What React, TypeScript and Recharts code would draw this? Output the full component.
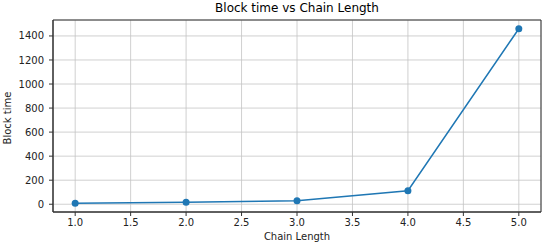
import { LineChart, Line, XAxis, YAxis, CartesianGrid, ReferenceArea } from 'recharts'

const chainLength = [1, 2, 3, 4, 5]
const blockTime = [8, 17, 30, 112, 1460]
const xTicks = [1.0, 1.5, 2.0, 2.5, 3.0, 3.5, 4.0, 4.5, 5.0]
const yTicks = [0, 200, 400, 600, 800, 1000, 1200, 1400]

const data = chainLength.map((x, i) => ({ x, y: blockTime[i] }))

const FONT = '"DejaVu Sans", sans-serif'
const BLUE = '#1f77b4'

// matplotlib style 5% margins around the data
const padDomain = ([min, max]: [number, number]): [number, number] => {
  const pad = (max - min) * 0.05
  return [min - pad, max + pad]
}

export default function App() {
  const yDom = padDomain([Math.min(...blockTime), Math.max(...blockTime)])
  return (
    <div style={{ position: 'absolute', left: 0, top: 0, width: 550, height: 248, background: '#fff', fontFamily: FONT }}>
      <div style={{ position: 'absolute', left: 53, width: 488, top: 1, textAlign: 'center', fontSize: 12, color: '#000' }}>
        Block time vs Chain Length
      </div>
      <div style={{ position: 'absolute', left: 53, width: 488, top: 231, textAlign: 'center', fontSize: 10, color: '#222' }}>
        Chain Length
      </div>
      <div
        style={{
          position: 'absolute',
          left: 7,
          top: 118,
          fontSize: 10,
          color: '#222',
          whiteSpace: 'nowrap',
          transform: 'translate(-50%, -50%) rotate(-90deg)',
        }}
      >
        Block time
      </div>
      <LineChart width={550} height={248} data={data} margin={{ top: 20, right: 9, bottom: 0, left: 0 }}>
        <CartesianGrid stroke="#c4c4c4" strokeWidth={0.8} />
        <XAxis
          dataKey="x"
          type="number"
          domain={[0.8, 5.2]}
          ticks={xTicks}
          tickFormatter={(v: number) => v.toFixed(1)}
          height={36}
          tickSize={4}
          tickMargin={3}
          axisLine={{ stroke: '#333' }}
          tickLine={{ stroke: '#333' }}
          tick={{ fontSize: 10, fill: '#222', fontFamily: FONT }}
          allowDataOverflow
        />
        <YAxis
          type="number"
          domain={yDom}
          ticks={yTicks}
          width={53}
          tickSize={4}
          tickMargin={5}
          axisLine={{ stroke: '#333' }}
          tickLine={{ stroke: '#333' }}
          tick={{ fontSize: 10, fill: '#222', fontFamily: FONT }}
          allowDataOverflow
        />
        <ReferenceArea x1={0.8} x2={5.2} y1={yDom[0]} y2={yDom[1]} fill="none" stroke="#333" strokeWidth={1} />
        <Line
          dataKey="y"
          type="linear"
          stroke={BLUE}
          strokeWidth={1.5}
          dot={{ r: 3.5, fill: BLUE, stroke: BLUE, strokeWidth: 0 }}
          activeDot={false}
          isAnimationActive={false}
        />
      </LineChart>
    </div>
  )
}
